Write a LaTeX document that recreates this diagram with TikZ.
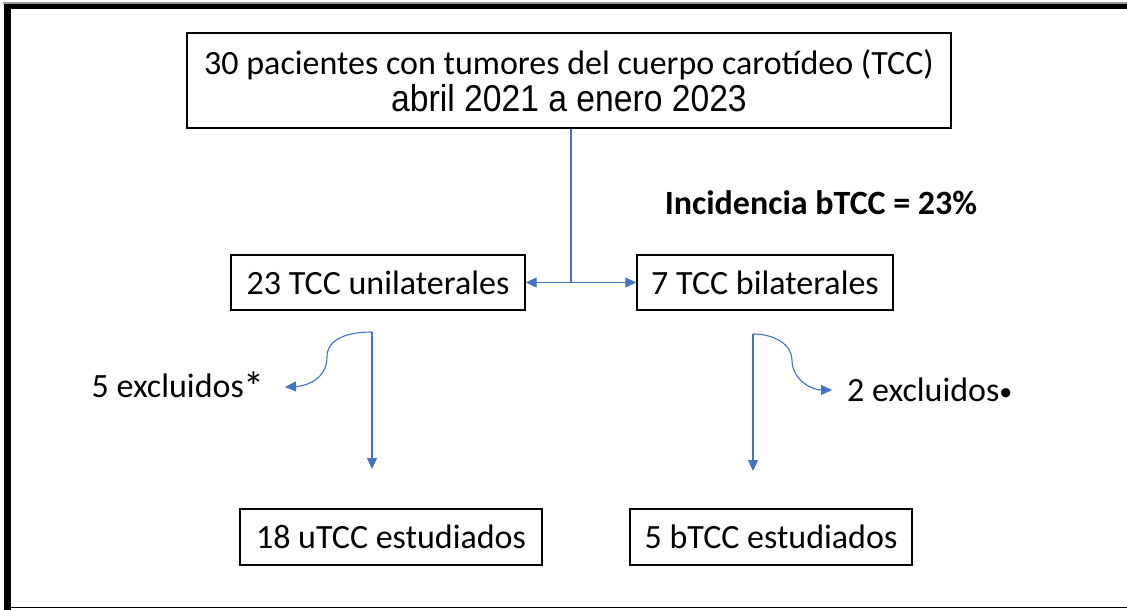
\documentclass[tikz,border=0pt]{standalone}
\usepackage{fontspec}
\setmainfont{Carlito}
\newfontfamily\arialfont{Liberation Sans}
\usetikzlibrary{arrows.meta}
\definecolor{linkblue}{RGB}{68,114,196}
\tikzstyle{box} = [rectangle,
line width=1.4pt,
draw=black,
text centered,
inner sep=0pt,
font=\fontsize{34}{40}\selectfont]
\tikzstyle{label} = [inner sep=0pt, font=\fontsize{34}{40}\selectfont]
\tikzstyle{arrow} = [linkblue, line width=1.1pt, -{Triangle[length=11pt,width=10pt]}]

\begin{document}
\begin{tikzpicture}[x=1pt,y=-1pt]
\useasboundingbox (0,0) rectangle (1127,610);

% frame
\fill[black!40] (3,2.5) rectangle (1127,4);
\fill[black] (4,4) rectangle (1127,9.5);
\fill[black] (4,4) rectangle (10.5,610);
\draw[line width=1.4pt] (10,607.5) -- (1127,607.5);

\node (total) [box, minimum width=764pt, minimum height=95pt, align=center] at (569,80.5)
  {30 pacientes con tumores del cuerpo carotídeo (TCC)\\[-3pt]{\arialfont\scalebox{0.99}[1.1]{abril 2021 a enero 2023}}};
\node (incid) [label, font=\fontsize{34}{40}\selectfont\bfseries] at (821,203) {Incidencia bTCC = 23\%};
\node (uni) [box, minimum width=294pt, minimum height=55pt] at (378,282.5) {23 TCC unilaterales};
\node (bi) [box, minimum width=256pt, minimum height=55pt] at (765,282.5) {7 TCC bilaterales};
\node (uexcl) [label, anchor=east, inner xsep=20pt] at (285,387)
  {5 excluidos\raisebox{-4pt}{\fontsize{42}{42}\selectfont *}};
\node (bexcl) [label, anchor=west, inner xsep=15pt] at (832,390)
  {2 excluidos\raisebox{1pt}{\fontsize{26}{26}\selectfont •}};
\node (ustud) [box, minimum width=302pt, minimum height=56pt] at (391,537) {18 uTCC estudiados};
\node (bstud) [box, minimum width=282pt, minimum height=56pt] at (771,537) {5 bTCC estudiados};

\coordinate (split) at (571,282.5);
\coordinate (usplit) at (372,332);
\coordinate (uend) at (372,469);
\coordinate (bsplit) at (753,334);
\coordinate (bend) at (753,471);

\draw [linkblue, line width=1.1pt] (total.south -| split) -- (split);
\draw [arrow] (split) -- (uni.east);
\draw [arrow] (split) -- (bi.west);
\draw [arrow] (usplit) -- (uend);
\draw [arrow] (usplit) .. controls (345,332) and (327,340) .. (327,357)
  .. controls (327,378) and (308,386) .. (uexcl.east);
\draw [arrow] (bsplit) -- (bend);
\draw [arrow] (bsplit) .. controls (775,334) and (792,345) .. (792,360)
  .. controls (792,380) and (812,390) .. (bexcl.west);
\end{tikzpicture}
\end{document}
